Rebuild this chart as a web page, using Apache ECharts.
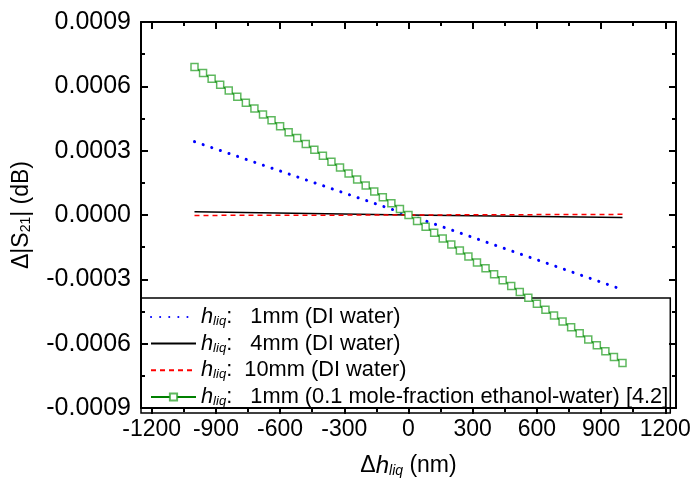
<!DOCTYPE html>
<html>
<head>
<meta charset="utf-8">
<script src="https://cdn.jsdelivr.net/npm/echarts@6/dist/echarts.min.js"></script>
<style>html,body{margin:0;padding:0;background:#fff}#c{width:696px;height:483px}</style>
</head>
<body>
<div id="c"></div>
<script>
// ---- data ----
const xEthanol = [-1000,-960,-920,-880,-840,-800,-760,-720,-680,-640,-600,-560,-520,-480,-440,-400,-360,-320,-280,-240,-200,-160,-120,-80,-40,0,40,80,120,160,200,240,280,320,360,400,440,480,520,560,600,640,680,720,760,800,840,880,920,960,1000];
const yEthanol = [0.000690,0.000662,0.000635,0.000607,0.000580,0.000552,0.000524,0.000497,0.000469,0.000442,0.000414,0.000386,0.000359,0.000331,0.000304,0.000276,0.000248,0.000221,0.000193,0.000166,0.000138,0.000110,0.000083,0.000055,0.000028,0,-0.000028,-0.000055,-0.000083,-0.000110,-0.000138,-0.000166,-0.000193,-0.000221,-0.000248,-0.000276,-0.000304,-0.000331,-0.000359,-0.000386,-0.000414,-0.000442,-0.000469,-0.000497,-0.000524,-0.000552,-0.000580,-0.000607,-0.000635,-0.000662,-0.000690];
const xWater = [-1000, 0, 1000];
const y1mm = [0.000342, 0, -0.000348];
const y4mm = [0.000015, 0, -0.000012];
const y10mm = [-0.000002, 0, 0.000003];
const xMajorTicks = [-1200,-900,-600,-300,0,300,600,900,1200];
const xMinorTicks = [-1050,-750,-450,-150,150,450,750,1050];
const seriesNames = ['1mm DI', '4mm DI', '10mm DI', '1mm ethanol'];
const legendTexts = {
  '1mm DI': ':   1mm (DI water)',
  '4mm DI': ':   4mm (DI water)',
  '10mm DI': ':  10mm (DI water)',
  '1mm ethanol': ':   1mm (0.1 mole-fraction ethanol-water) [4.2]'
};

const pairs = (xs, ys) => xs.map((x, i) => [x, ys[i]]);
const FONT = '"Liberation Sans", Arial, sans-serif';
const chart = echarts.init(document.getElementById('c'), null, {renderer: 'canvas'});

const frameLine = {show: true, onZero: false, lineStyle: {color: '#000', width: 2}};
const noLine = {show: false, onZero: false};
const xBase = {type: 'value', min: -1250, max: 1250, splitLine: {show: false}};

chart.setOption({
  animation: false,
  backgroundColor: '#fff',
  textStyle: {fontFamily: FONT},
  grid: {left: 141, right: 20, top: 22, bottom: 70, containLabel: false},
  xAxis: [
    Object.assign({}, xBase, {
      position: 'bottom', axisLine: frameLine,
      axisTick: {show: true, inside: false, length: 6, customValues: xMajorTicks, lineStyle: {color: '#000', width: 2}},
      axisLabel: {show: true, customValues: xMajorTicks, margin: 10, color: '#000', fontSize: 23, fontFamily: FONT,
        formatter: v => String(v)},
      name: '{d|Δ}{h|h}{s|liq}{t| (nm)}',
      nameLocation: 'middle', nameGap: 46,
      nameTextStyle: {color: '#000', fontFamily: FONT, rich: {
        d: {fontSize: 23, fontFamily: FONT, color: '#000'},
        h: {fontSize: 24, fontStyle: 'italic', fontFamily: FONT, color: '#000'},
        s: {fontSize: 14, fontStyle: 'italic', fontFamily: FONT, color: '#000', verticalAlign: 'bottom', padding: [8, 0, 0, 0]},
        t: {fontSize: 23, fontFamily: FONT, color: '#000'}
      }}
    }),
    Object.assign({}, xBase, {
      position: 'bottom', axisLine: noLine,
      axisTick: {show: true, inside: false, length: 4, customValues: xMinorTicks, lineStyle: {color: '#000', width: 2}},
      axisLabel: {show: false}
    }),
    Object.assign({}, xBase, {
      position: 'top', axisLine: frameLine,
      axisTick: {show: true, inside: true, length: 7, customValues: xMajorTicks, lineStyle: {color: '#000', width: 2}},
      axisLabel: {show: false}
    }),
    Object.assign({}, xBase, {
      position: 'top', axisLine: noLine,
      axisTick: {show: true, inside: true, length: 4, customValues: xMinorTicks, lineStyle: {color: '#000', width: 2}},
      axisLabel: {show: false}
    })
  ],
  yAxis: [
    {
      type: 'value', position: 'left', min: -0.0009, max: 0.0009, interval: 0.0003,
      splitLine: {show: false},
      axisLine: frameLine,
      axisTick: {show: true, inside: true, length: 7, lineStyle: {color: '#000', width: 2}},
      minorTick: {show: true, splitNumber: 2, length: 4, lineStyle: {color: '#000', width: 2}},
      axisLabel: {margin: 10, color: '#000', fontSize: 25, fontFamily: FONT,
        formatter: v => (Math.abs(v) < 1e-12 ? 0 : v).toFixed(4)},
      name: '{t|Δ|S}{s|21}{t|| (dB)}',
      nameLocation: 'middle', nameGap: 108, nameRotate: 90,
      nameTextStyle: {color: '#000', fontFamily: FONT, rich: {
        t: {fontSize: 23, fontFamily: FONT, color: '#000'},
        s: {fontSize: 14, fontFamily: FONT, color: '#000', verticalAlign: 'bottom', padding: [8, 0, 0, 0]}
      }}
    },
    {
      type: 'value', position: 'right', min: -0.0009, max: 0.0009, interval: 0.0003,
      splitLine: {show: false},
      axisLine: frameLine,
      axisTick: {show: true, inside: true, length: 7, lineStyle: {color: '#000', width: 2}},
      minorTick: {show: true, splitNumber: 2, length: 4, lineStyle: {color: '#000', width: 2}},
      axisLabel: {show: false}
    }
  ],
  legend: {
    data: seriesNames,
    orient: 'vertical',
    left: 141, bottom: 70,
    padding: [8, 2, 5, 9],
    itemGap: 4.7,
    itemWidth: 45, itemHeight: 9,
    borderColor: '#000', borderWidth: 1.5,
    backgroundColor: 'transparent',
    z: 1,
    formatter: name => '{h|h}{s|liq}{t|' + legendTexts[name] + '}',
    textStyle: {color: '#000', fontFamily: FONT, fontSize: 21.8, rich: {
      h: {fontSize: 21.8, fontStyle: 'italic', fontFamily: FONT, color: '#000', lineHeight: 22},
      s: {fontSize: 13, fontStyle: 'italic', fontFamily: FONT, color: '#000', verticalAlign: 'bottom', padding: [6, 0, 0, 0], lineHeight: 22},
      t: {fontSize: 21.8, fontFamily: FONT, color: '#000', lineHeight: 22}
    }}
  },
  series: [
    {
      name: '1mm DI', type: 'line', data: pairs(xWater, y1mm),
      symbol: 'circle', showSymbol: false,
      lineStyle: {color: '#0000ff', width: 3, type: [0.1, 9], cap: 'round'},
      itemStyle: {color: '#0000ff', opacity: 0}, z: 3
    },
    {
      name: '4mm DI', type: 'line', data: pairs(xWater, y4mm),
      symbol: 'circle', showSymbol: false,
      lineStyle: {color: '#000', width: 1.5},
      itemStyle: {color: '#000', opacity: 0}, z: 2
    },
    {
      name: '10mm DI', type: 'line', data: pairs(xWater, y10mm),
      symbol: 'circle', showSymbol: false,
      lineStyle: {color: '#ff0000', width: 1.5, type: [5, 4]},
      itemStyle: {color: '#ff0000', opacity: 0}, z: 4
    },
    {
      name: '1mm ethanol', type: 'line', data: pairs(xEthanol, yEthanol),
      symbol: 'rect', symbolSize: 7, showSymbol: true,
      lineStyle: {color: '#008000', width: 1.5},
      itemStyle: {color: '#fff', borderColor: 'rgba(40,160,40,0.75)', borderWidth: 1.5},
      z: 5
    }
  ]
});
</script>
</body>
</html>
